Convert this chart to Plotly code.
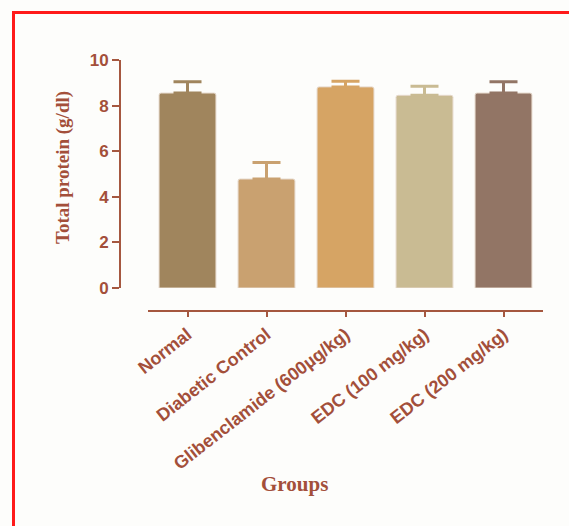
import plotly.graph_objects as go

# Group means and SEM for total protein
groups = ["Normal", "Diabetic Control", "Glibenclamide (600µg/kg)",
          "EDC (100 mg/kg)", "EDC (200 mg/kg)"]
protein = [8.55, 4.78, 8.82, 8.45, 8.55]
sem = [0.5, 0.72, 0.25, 0.4, 0.5]
bar_colors = ["#a0855d", "#c9a170", "#d6a464", "#c9bb93", "#927565"]
y_ticks = [0, 2, 4, 6, 8, 10]

W, H = 569, 526
axis_col = "#a5573f"
text_col = "#a34f3a"

fig = go.Figure()
for g, v, e, c in zip(groups, protein, sem, bar_colors):
    fig.add_trace(go.Bar(
        x=[g], y=[v],
        marker=dict(color=c, line=dict(color="#e6d9cc", width=1), cornerradius=2),
        width=0.72,
        error_y=dict(type="data", array=[e], arrayminus=[0], symmetric=False,
                     color=c, thickness=3, width=14),
        showlegend=False,
    ))

def px_x(p):
    return p / W

def px_y(p):
    return (H - p) / H

fig.update_layout(
    width=W, height=H,
    margin=dict(l=0, r=0, t=0, b=0, autoexpand=False),
    paper_bgcolor="#fdfdfb",
    plot_bgcolor="rgba(0,0,0,0)",
    xaxis=dict(
        domain=[px_x(148), px_x(543)],
        range=[-0.5, 4.5],
        anchor="free", position=px_y(311),
        automargin=False,
        showline=True, linecolor=axis_col, linewidth=2,
        ticks="outside", ticklen=5, tickwidth=2, tickcolor=axis_col,
        tickangle=-38,
        tickfont=dict(family="Arial, Liberation Sans", size=18, color=text_col, weight="bold"),
        showgrid=False, zeroline=False,
    ),
    yaxis=dict(
        domain=[px_y(288), px_y(60)],
        range=[0, 10],
        anchor="free", position=px_x(120),
        automargin=False,
        tickvals=y_ticks,
        showline=True, linecolor=axis_col, linewidth=2,
        ticks="outside", ticklen=7, tickwidth=2, tickcolor=axis_col,
        tickfont=dict(family="Arial, Liberation Sans", size=17, color=text_col, weight="bold"),
        showgrid=False, zeroline=False,
    ),
    annotations=[
        dict(text="Total protein (g/dl)", x=px_x(63), y=px_y(168), xref="paper", yref="paper",
             xanchor="center", yanchor="middle",
             textangle=-90, showarrow=False,
             font=dict(family="Liberation Serif, Times New Roman", size=19, color=text_col, weight="bold")),
        dict(text="Groups", x=px_x(294), y=px_y(484), xref="paper", yref="paper",
             xanchor="center", yanchor="middle",
             showarrow=False,
             font=dict(family="Liberation Serif, Times New Roman", size=21, color=text_col, weight="bold")),
    ],
    shapes=[
        dict(type="line", xref="paper", yref="paper",
             x0=px_x(13.5), x1=px_x(13.5), y0=px_y(11), y1=px_y(530),
             line=dict(color="#ff1a1a", width=3)),
        dict(type="line", xref="paper", yref="paper",
             x0=px_x(12), x1=px_x(575), y0=px_y(12.5), y1=px_y(12.5),
             line=dict(color="#ff1a1a", width=3)),
    ],
)

fig.write_html("out.html")
